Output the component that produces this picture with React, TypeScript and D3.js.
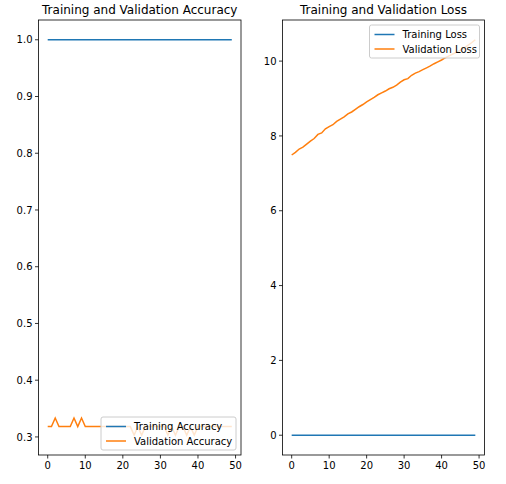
import React from "react";
import * as d3 from "d3";

const epochs: number[] = Array.from({ length: 50 }, (_, i) => i);
const trainAcc: number[] = epochs.map(() => 1.0);
const valAcc: number[] = [
  0.3182, 0.3182, 0.3333, 0.3182, 0.3182, 0.3182, 0.3182, 0.3333, 0.3182, 0.3333,
  0.3182, 0.3182, 0.3182, 0.3182, 0.3182, 0.3182, 0.3182, 0.3182, 0.3182, 0.3182,
  0.3182, 0.3182, 0.3182, 0.3030, 0.3182, 0.3030, 0.3182, 0.3182, 0.3182, 0.3182,
  0.3182, 0.3182, 0.3030, 0.3182, 0.3030, 0.3182, 0.3182, 0.3030, 0.3182, 0.3030,
  0.3182, 0.3182, 0.3182, 0.3182, 0.3182, 0.3182, 0.3182, 0.3182, 0.3182, 0.3182,
];
const trainLoss: number[] = epochs.map(() => 0);
const valLoss: number[] = [
  7.49, 7.56, 7.65, 7.7, 7.78, 7.86, 7.93, 8.04, 8.08, 8.19,
  8.25, 8.3, 8.39, 8.45, 8.51, 8.59, 8.64, 8.71, 8.78, 8.84,
  8.91, 8.97, 9.03, 9.1, 9.15, 9.2, 9.26, 9.3, 9.36, 9.44,
  9.5, 9.53, 9.62, 9.68, 9.72, 9.77, 9.82, 9.87, 9.93, 9.98,
  10.03, 10.09, 10.14, 10.19, 10.24, 10.29, 10.35, 10.42, 10.49, 10.57,
];
const xTicks: number[] = [0, 10, 20, 30, 40, 50];
const accTicks: number[] = [0.3, 0.4, 0.5, 0.6, 0.7, 0.8, 0.9, 1.0];
const lossTicks: number[] = [0, 2, 4, 6, 8, 10];

const BLUE = "#1f77b4";
const ORANGE = "#ff7f0e";
const FONT = "DejaVu Sans";

type Series = { label: string; values: number[]; color: string };

function Panel(props: {
  left: number; right: number; top: number; bottom: number;
  title: string; series: Series[]; yTicks: number[]; yFmt: (v: number) => string;
  legend: "lower right" | "upper right";
}) {
  const { left, right, top, bottom, title, series, yTicks, yFmt, legend } = props;
  const allY = series.flatMap((s) => s.values);
  const ymin = d3.min(allY)!, ymax = d3.max(allY)!;
  const ypad = (ymax - ymin) * 0.05;
  const xpad = 49 * 0.05;
  const x = d3.scaleLinear().domain([0 - xpad, 49 + xpad]).range([left, right]);
  const y = d3.scaleLinear().domain([ymin - ypad, ymax + ypad]).range([bottom, top]);
  const line = d3.line<number>().x((_, i) => x(epochs[i])).y((d) => y(d));

  const legW = 135 - (legend === "upper right" ? 25 : 0);
  const legH = 33;
  const lx = right - 5 - legW;
  const ly = legend === "lower right" ? bottom - 5 - legH : top + 5;

  return (
    <g>
      {series.map((s) => (
        <path key={s.label} d={line(s.values)!} fill="none" stroke={s.color} strokeWidth={1.5} />
      ))}
      <rect x={lx} y={ly} width={legW} height={legH} rx={2} fill="white" fillOpacity={0.8} stroke="#cccccc" strokeWidth={1} />
      {series.map((s, i) => (
        <g key={s.label + "leg"}>
          <line x1={lx + 5} x2={lx + 25} y1={ly + 9.5 + i * 14.5} y2={ly + 9.5 + i * 14.5} stroke={s.color} strokeWidth={1.5} />
          <text x={lx + 33} y={ly + 13 + i * 14.5} fontSize={10} fontFamily={FONT} fill="black">{s.label}</text>
        </g>
      ))}
      <rect x={left} y={top} width={right - left} height={bottom - top} fill="none" stroke="black" strokeWidth={0.8} />
      {xTicks.map((t) => (
        <g key={"x" + t}>
          <line x1={x(t)} x2={x(t)} y1={bottom} y2={bottom + 3.5} stroke="black" strokeWidth={0.8} />
          <text x={x(t)} y={bottom + 14} textAnchor="middle" fontSize={10} fontFamily={FONT} fill="black">{t}</text>
        </g>
      ))}
      {yTicks.map((t) => (
        <g key={"y" + t}>
          <line x1={left - 3.5} x2={left} y1={y(t)} y2={y(t)} stroke="black" strokeWidth={0.8} />
          <text x={left - 6} y={y(t) + 3.6} textAnchor="end" fontSize={10} fontFamily={FONT} fill="black">{yFmt(t)}</text>
        </g>
      ))}
      <text x={(left + right) / 2} y={top - 6} textAnchor="middle" fontSize={12} fontFamily={FONT} fill="black">{title}</text>
    </g>
  );
}

export default function App() {
  return (
    <svg width={506} height={484} style={{ position: "fixed", left: 0, top: 0, background: "white" }}>
      <rect width={506} height={484} fill="white" />
      <Panel
        left={38.5} right={241} top={20} bottom={455}
        title="Training and Validation Accuracy"
        series={[
          { label: "Training Accuracy", values: trainAcc, color: BLUE },
          { label: "Validation Accuracy", values: valAcc, color: ORANGE },
        ]}
        yTicks={accTicks} yFmt={(v) => v.toFixed(1)} legend="lower right"
      />
      <Panel
        left={282.5} right={484.5} top={20} bottom={455}
        title="Training and Validation Loss"
        series={[
          { label: "Training Loss", values: trainLoss, color: BLUE },
          { label: "Validation Loss", values: valLoss, color: ORANGE },
        ]}
        yTicks={lossTicks} yFmt={(v) => String(v)} legend="upper right"
      />
    </svg>
  );
}
